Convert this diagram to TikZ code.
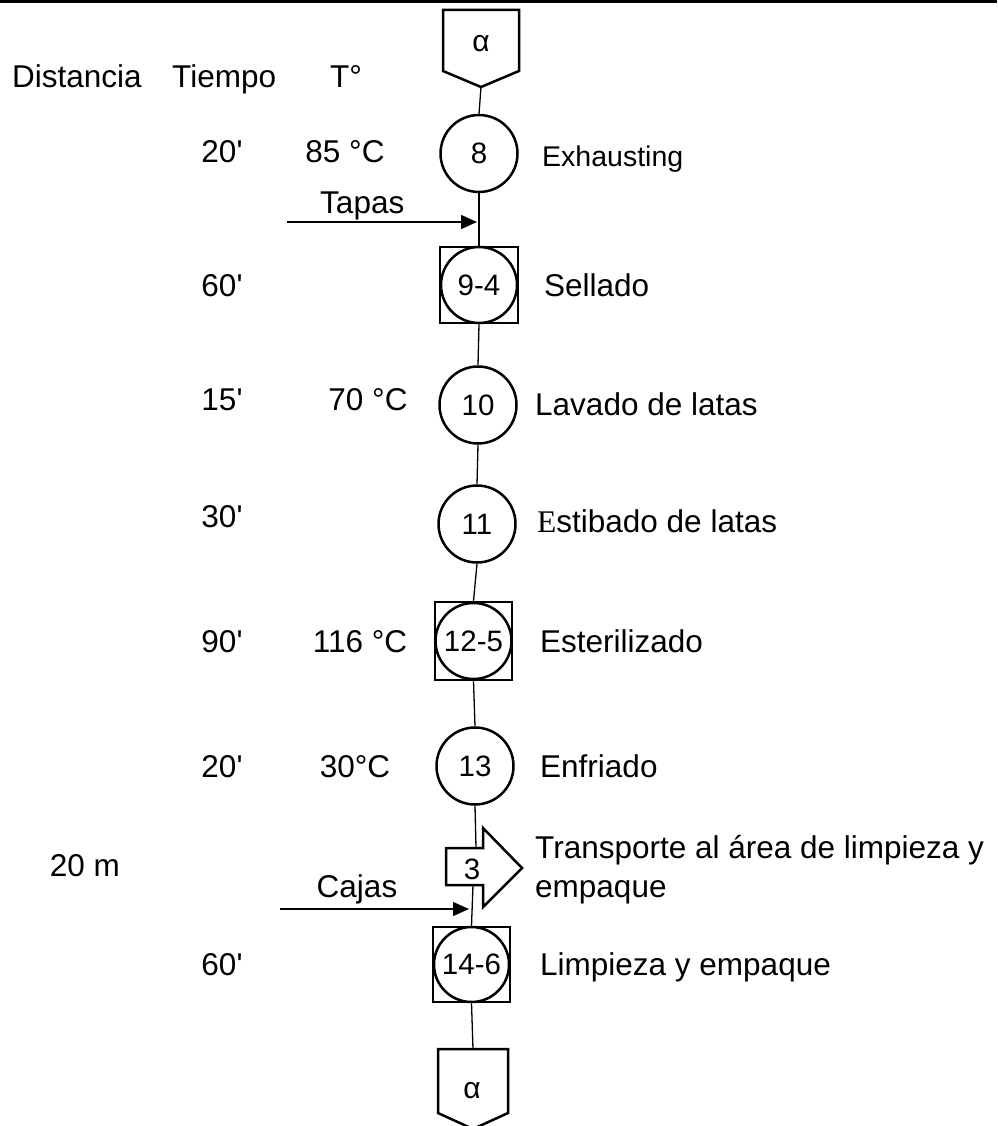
\documentclass[tikz,border=0pt]{standalone}
\usepackage{fontspec}
\setmainfont{Liberation Sans}
\newfontfamily\serifE{Liberation Serif}
\usetikzlibrary{arrows.meta}

\begin{document}
\begin{tikzpicture}[x=1pt,y=-1pt,
  conn/.style={line width=1.3pt},
  edge/.style={line width=2.5pt, line join=miter},
  opcircle/.style={circle, draw, line width=2.5pt, inner sep=0pt, minimum size=77pt,
    font=\fontsize{29.5}{33}\selectfont},
  inspbox/.style={rectangle, draw, line width=2.5pt, inner sep=0pt},
  lbl/.style={inner sep=0pt, font=\fontsize{31.5}{38}\selectfont},
  small/.style={inner sep=0pt, font=\fontsize{28.5}{34}\selectfont},
  feed/.style={conn, -{Triangle[length=16pt, width=14pt]}},
]
\useasboundingbox (0,0) rectangle (997,1126);
\clip (0,0) rectangle (997,1126);

% rule along the top edge
\fill (0,0) rectangle (997,2.8);

% column headings
\node[lbl, anchor=base west] (hdist) at (12,88) {Distancia};
\node[lbl, anchor=base west] (htime) at (172,88) {Tiempo};
\node[lbl, anchor=base west] (htemp) at (330,88) {T°};

% incoming off-page connector
\draw[edge] (443,10) -- (519,10) -- (519,71) -- (481,87) -- (443,71) -- cycle;
\coordinate (atop) at (481,87);
\node[inner sep=0pt, font=\fontsize{30}{34}\selectfont] (alphaA) at (481,44) {α};

% operations
\node[opcircle] (op8) at (479,153.5) {8};

\node[inspbox, minimum width=78pt, minimum height=76pt] (b94) at (479,285) {};
\node[opcircle, minimum size=76pt] (op94) at (479,285) {9-4};

\node[opcircle] (op10) at (478,405) {10};
\node[opcircle] (op11) at (477,524) {11};

\node[inspbox, minimum width=77pt, minimum height=78pt] (b125) at (473.5,641) {};
\node[opcircle, minimum size=76pt] (op125) at (473.5,641) {12-5};

\node[opcircle] (op13) at (475,766) {13};

% transport arrow
\draw[edge] (446,848) -- (483,848) -- (483,828) -- (522,868) -- (483,907)
  -- (483,885) -- (446,885) -- cycle;
\coordinate (trtop) at (476,848);
\coordinate (trbot) at (473,885);
\node[inner sep=0pt, font=\fontsize{29.5}{32}\selectfont] (tr3) at (472,869) {3};

\node[inspbox, minimum width=77pt, minimum height=75pt] (b146) at (471.5,964.5) {};
\node[opcircle, minimum size=75pt] (op146) at (471.5,964.5) {14-6};

% outgoing off-page connector
\draw[edge] (438,1049) -- (508,1049) -- (508,1113) -- (473,1129) -- (438,1113) -- cycle;
\coordinate (abot) at (473,1049);
\node[inner sep=0pt, font=\fontsize{30}{34}\selectfont] (alphaB) at (472,1091) {α};

% flow line
\draw[conn] (atop) -- (op8.north);
\draw[conn] (op8.south) -- (b94.north);
\draw[conn] (b94.south) -- (op10.north);
\draw[conn] (op10.south) -- (op11.north);
\draw[conn] (op11.south) -- (b125.north);
\draw[conn] (b125.south) -- (op13.north);
\draw[conn] (op13.south) -- (trtop);
\draw[conn] (trbot) -- (b146.north);
\draw[conn] (b146.south) -- (abot);

% material inputs
\coordinate (tapasS) at (287,222);
\coordinate (tapasE) at (477,222);
\draw[feed] (tapasS) -- (tapasE);
\node[lbl, anchor=base west] (tapas) at (320,213) {Tapas};

\coordinate (cajasS) at (280,909);
\coordinate (cajasE) at (469,909);
\draw[feed] (cajasS) -- (cajasE);
\node[lbl, anchor=base] (cajas) at (357,897) {Cajas};

% times and temperatures
\node[lbl, anchor=base] (t8) at (222,163) {20\textquotesingle};
\node[lbl, anchor=base] (c8) at (345,163) {85 °C};
\node[lbl, anchor=base] (t94) at (222,296) {60\textquotesingle};
\node[lbl, anchor=base] (t10) at (222,410) {15\textquotesingle};
\node[lbl, anchor=base] (c10) at (368,410) {70 °C};
\node[lbl, anchor=base] (t11) at (222,527) {30\textquotesingle};
\node[lbl, anchor=base] (t125) at (222,652) {90\textquotesingle};
\node[lbl, anchor=base] (c125) at (360,652) {116 °C};
\node[lbl, anchor=base] (t13) at (222,777) {20\textquotesingle};
\node[lbl, anchor=base] (c13) at (355,777) {30°C};
\node[lbl, anchor=base] (dtr) at (85,876) {20 m};
\node[lbl, anchor=base] (t146) at (222,975) {60\textquotesingle};

% descriptions
\node[small, anchor=base west] (d8) at (542,167) {Exhausting};
\node[lbl, anchor=base west] (d94) at (544,296) {Sellado};
\node[lbl, anchor=base west] (d10) at (535,415) {Lavado de latas};
\node[lbl, anchor=base west] (d11) at (537,532) {{\serifE E}stibado de latas};
\node[lbl, anchor=base west] (d125) at (540,652) {Esterilizado};
\node[lbl, anchor=base west] (d13) at (540,777) {Enfriado};
\node[lbl, anchor=base west] (dtr1) at (535,858) {Transporte al área de limpieza y};
\node[lbl, anchor=base west] (dtr2) at (535,897) {empaque};
\node[lbl, anchor=base west] (d146) at (540,975) {Limpieza y empaque};
\end{tikzpicture}
\end{document}
